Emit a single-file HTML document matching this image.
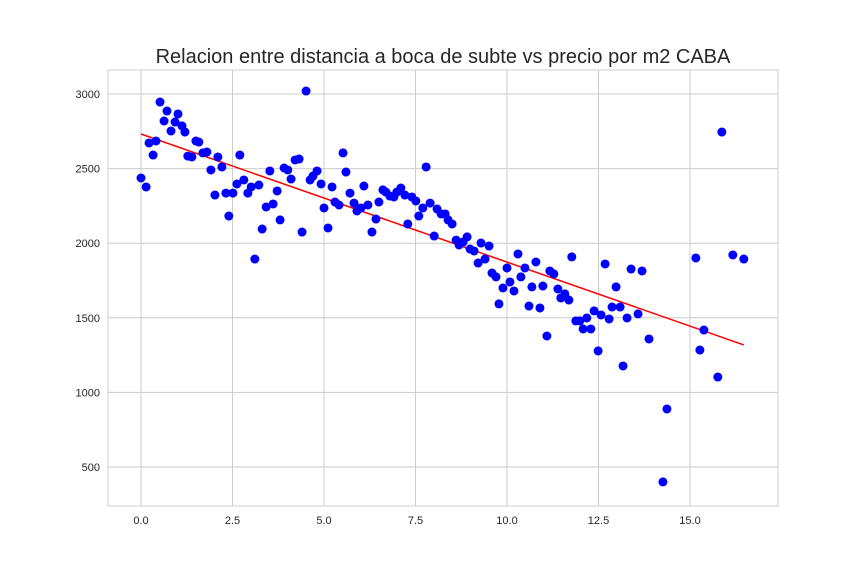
<!DOCTYPE html>
<html><head><meta charset="utf-8"><style>
body{margin:0;background:#fff;}
svg text{font-family:"Liberation Sans",sans-serif;}
</style></head><body>
<svg id="chart" width="864" height="576" xmlns="http://www.w3.org/2000/svg">
<rect width="864" height="576" fill="#fff"/>
<text x="443" y="63" font-size="20" text-anchor="middle" fill="#262626">Relacion entre distancia a boca de subte vs precio por m2 CABA</text>
<g id="grid"></g><g id="ticks"></g>
<rect x="108" y="70" width="670" height="436" fill="none" stroke="#ccc" stroke-width="1"/>
<g id="line"></g><g id="points"></g>
</svg>
<script>
const xs=[0,.14,.22,.33,.41,.52,.63,.71,.82,.93,1.01,1.12,1.20,1.28,1.39,1.50,1.58,1.69,1.80,1.91,2.02,2.10,2.21,2.32,2.40,2.51,2.62,2.70,2.81,2.92,3.01,3.11,3.22,3.31,3.42,3.52,3.61,3.72,3.80,3.91,4.01,4.10,4.21,4.32,4.40,4.51,4.62,4.70,4.81,4.92,5.00,5.11,5.22,5.30,5.41,5.52,5.60,5.71,5.82,5.90,6.01,6.09,6.20,6.31,6.42,6.50,6.61,6.69,6.80,6.91,6.99,7.10,7.21,7.29,7.40,7.51,7.59,7.70,7.79,7.90,8.01,8.09,8.20,8.31,8.39,8.50,8.61,8.69,8.80,8.91,8.99,9.10,9.21,9.29,9.40,9.51,9.59,9.70,9.78,9.89,10.00,10.08,10.19,10.30,10.38,10.49,10.60,10.68,10.79,10.90,10.98,11.09,11.17,11.28,11.39,11.47,11.58,11.69,11.77,11.88,11.99,12.08,12.18,12.29,12.38,12.49,12.57,12.68,12.79,12.87,12.98,13.09,13.17,13.28,13.39,13.58,13.69,13.88,14.26,14.37,15.16,15.27,15.38,15.76,15.87,16.17,16.47];
const ys=[2437,2377,2672,2591,2685,2946,2819,2886,2752,2812,2866,2786,2745,2584,2578,2685,2678,2605,2611,2491,2323,2578,2511,2336,2182,2336,2397,2591,2424,2336,2377,1894,2390,2095,2243,2484,2263,2350,2156,2504,2491,2430,2558,2564,2075,3020,2424,2450,2484,2397,2236,2102,2377,2276,2256,2605,2477,2336,2269,2216,2236,2383,2256,2075,2162,2276,2357,2343,2316,2310,2343,2370,2323,2129,2310,2283,2182,2236,2511,2269,2048,2229,2196,2196,2156,2129,2021,1988,2008,2042,1961,1948,1867,2001,1894,1981,1800,1774,1593,1700,1834,1740,1680,1928,1774,1834,1579,1707,1874,1566,1713,1378,1814,1794,1693,1633,1660,1619,1908,1479,1479,1425,1499,1425,1546,1278,1519,1861,1492,1572,1707,1572,1177,1499,1827,1526,1814,1358,400,889,1901,1284,1418,1103,2745,1921,1894];
const fitX=[0,16.47];
const fitY=[2732,1318];
const xTicks=[0,2.5,5,7.5,10,12.5,15];
const xTickLabels=["0.0","2.5","5.0","7.5","10.0","12.5","15.0"];
const yTicks=[500,1000,1500,2000,2500,3000];
const yTickLabels=["500","1000","1500","2000","2500","3000"];
const NS="http://www.w3.org/2000/svg";
const X=v=>141+v*36.6;
const Y=v=>94+(3000-v)*74.6/500;
function mk(t,a,p){const e=document.createElementNS(NS,t);for(const k in a)e.setAttribute(k,a[k]);p.appendChild(e);return e;}
const grid=document.getElementById('grid'),ticks=document.getElementById('ticks');
xTicks.forEach((v,i)=>{
 const l=mk('line',{x1:X(v),x2:X(v),y1:70,y2:506,stroke:'#ccc','stroke-width':1},grid);
 
 
 const t=mk('text',{x:X(v),y:524,'font-size':11,'text-anchor':'middle',fill:'#262626'},ticks);
 t.textContent=xTickLabels[i];
 
 
});
yTicks.forEach((v,i)=>{
 const l=mk('line',{x1:108,x2:778,y1:Y(v),y2:Y(v),stroke:'#ccc','stroke-width':1},grid);
 
 
 const t=mk('text',{x:100,y:Y(v)+4,'font-size':11,'text-anchor':'end',fill:'#262626'},ticks);
 t.textContent=yTickLabels[i];
 
 
});
const fl=mk('line',{x1:X(fitX[0]),y1:Y(fitY[0]),x2:X(fitX[1]),y2:Y(fitY[1]),stroke:'#ff0000','stroke-width':1.5},document.getElementById('line'));


const pg=document.getElementById('points');
xs.forEach((v,i)=>{
 const c=mk('circle',{cx:X(v),cy:Y(ys[i]),r:4.5,fill:'#0000ff'},pg);
 
 
});
</script>
</body></html>
